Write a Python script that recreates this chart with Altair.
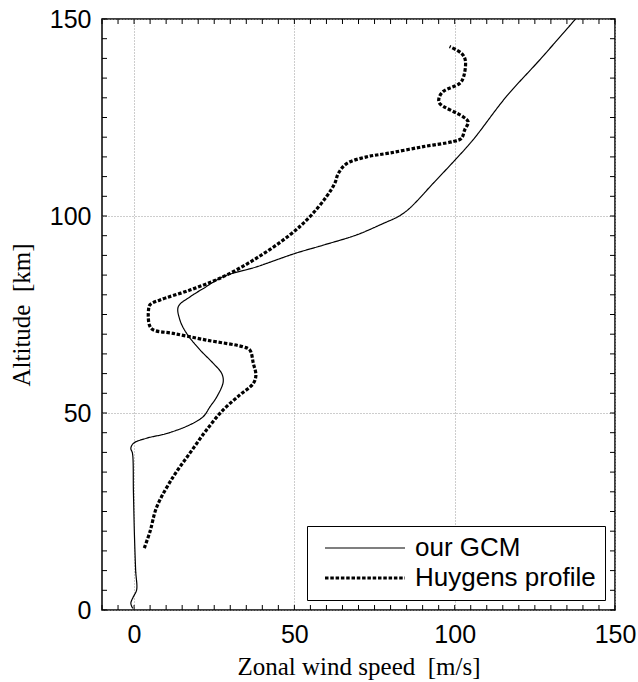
import altair as alt
import pandas as pd

# Zonal wind profiles: altitude [km] and eastward wind speed [m/s]
gcm_alt = [0.4, 1.7, 3.4, 5.1, 10.0, 19.5, 30.0, 39.8, 41.0, 42.3, 43.6, 44.8, 47.0,
           49.1, 51.6, 54.1, 57.9, 60.1, 62.6, 66.0, 70.2, 73.6, 77.0, 79.5, 81.6,
           84.6, 87.1, 90.5, 92.6, 95.2, 98.1, 100.0, 102.0, 108.3, 114.2, 119.3,
           130.3, 139.6, 150.0]
gcm_u = [-0.4, -1.0, -0.2, 0.8, 0.5, 0.1, -0.2, -0.5, -1.0, -0.2, 3.9, 10.2, 17.4,
         21.6, 23.7, 25.8, 27.8, 27.3, 24.7, 20.6, 16.4, 14.3, 13.8, 17.5, 21.6,
         27.8, 38.2, 50.2, 59.0, 69.4, 77.7, 82.7, 86.0, 93.3, 100.1, 105.7,
         116.1, 126.5, 137.7]

huy_alt = [15.7, 20.0, 26.2, 33.8, 39.8, 45.7, 50.8, 54.6, 57.5, 59.6, 62.6, 66.0,
           66.8, 68.5, 70.2, 71.1, 72.3, 76.1, 77.5, 78.7, 81.2, 84.6, 89.3, 95.2,
           99.8, 104.9, 108.3, 110.8, 113.3, 115.0, 116.0, 117.6, 118.9, 119.7,
           121.8, 123.9, 125.2, 128.6, 129.9, 131.6, 133.7, 135.4, 139.6, 141.3,
           143.0]
huy_u = [3.2, 5.0, 7.1, 12.2, 17.4, 22.6, 27.8, 33.0, 37.2, 38.0, 37.2, 36.1,
         34.0, 22.6, 12.2, 6.0, 4.8, 4.5, 5.0, 8.1, 17.4, 27.8, 38.2, 48.6,
         54.8, 60.0, 62.6, 63.7, 66.3, 72.5, 79.8, 90.2, 99.5, 102.1,
         103.1, 104.2, 102.6, 95.3, 95.1, 96.4, 101.6, 102.8, 103.3, 102.1,
         98.4]

series_names = ["our GCM", "Huygens profile"]
major_ticks = [0, 50, 100, 150]
x_minor = list(range(-10, 151, 5))
y_minor = list(range(0, 151, 5))

W, H = 513, 591
TICK = 5

rows = []
for name, us, zs in [(series_names[0], gcm_u, gcm_alt), (series_names[1], huy_u, huy_alt)]:
    for i, (u, z) in enumerate(zip(us, zs)):
        rows.append({"series": name, "u": u, "z": z, "i": i})
profiles = pd.DataFrame(rows)

xscale = alt.Scale(domain=[-10, 150], nice=False, zero=False)
yscale = alt.Scale(domain=[0, 150], nice=False, zero=False)
xaxis = alt.Axis(title="Zonal wind speed\u00a0 [m/s]", values=major_ticks,
                 ticks=False, domain=False, labelPadding=12,
                 titlePadding=7, labelFlush=False)
yaxis = alt.Axis(title="Altitude\u00a0 [km]", values=major_ticks,
                 ticks=False, domain=False, labelPadding=11,
                 titlePadding=15, labelFlush=False)

lines = alt.Chart(profiles).mark_line(
    color="black", interpolate="catmull-rom", strokeCap="butt", clip=True
).encode(
    x=alt.X("u:Q", scale=xscale, axis=xaxis),
    y=alt.Y("z:Q", scale=yscale, axis=yaxis),
    order="i:Q",
    strokeDash=alt.StrokeDash(
        "series:N",
        scale=alt.Scale(domain=series_names, range=[[1, 0], [3.5, 1.8]]),
        legend=alt.Legend(title=None, orient="none", legendX=205, legendY=507),
    ),
    strokeWidth=alt.StrokeWidth(
        "series:N",
        scale=alt.Scale(domain=series_names, range=[1.2, 3.2]),
        legend=None,
    ),
)

# inward-pointing tick marks on all four sides of the frame
xt = pd.DataFrame({"t": x_minor})
yt = pd.DataFrame({"t": y_minor})
bottom_ticks = alt.Chart(xt).mark_rule(color="black", strokeWidth=1).encode(
    x=alt.X("t:Q", scale=xscale, axis=xaxis), y=alt.value(H), y2=alt.value(H - TICK))
top_ticks = alt.Chart(xt).mark_rule(color="black", strokeWidth=1).encode(
    x=alt.X("t:Q", scale=xscale, axis=xaxis), y=alt.value(0), y2=alt.value(TICK))
left_ticks = alt.Chart(yt).mark_rule(color="black", strokeWidth=1).encode(
    y=alt.Y("t:Q", scale=yscale, axis=yaxis), x=alt.value(0), x2=alt.value(TICK))
right_ticks = alt.Chart(yt).mark_rule(color="black", strokeWidth=1).encode(
    y=alt.Y("t:Q", scale=yscale, axis=yaxis), x=alt.value(W), x2=alt.value(W - TICK))

chart = alt.layer(lines, bottom_ticks, top_ticks, left_ticks, right_ticks).properties(
    width=W, height=H,
    padding={"left": 102, "top": 19, "right": 23, "bottom": 72},
    autosize=alt.AutoSizeParams(type="none"),
    background="white",
).configure_view(
    stroke="black", strokeWidth=1.5
).configure_axis(
    grid=True, gridColor="#9a9a9a", gridDash=[1, 2], gridWidth=1,
    labelFont="Liberation Sans", labelFontSize=25, labelColor="black",
    titleFont="Liberation Serif", titleFontSize=25, titleFontWeight="normal",
    titleColor="black",
).configure_legend(
    strokeColor="black", fillColor="white", padding=9, cornerRadius=0,
    # a flat custom path gives an 80px line while keeping rows compact
    symbolType="M-10,0H10", symbolSize=64, symbolStrokeWidth=1.5,
    symbolStrokeColor="black", symbolOffset=36,
    labelFont="Liberation Sans", labelFontSize=26, labelColor="black",
    labelOffset=37, labelLimit=400, rowPadding=4,
)

chart.save("out.html", embed_options={"renderer": "svg", "actions": False})
